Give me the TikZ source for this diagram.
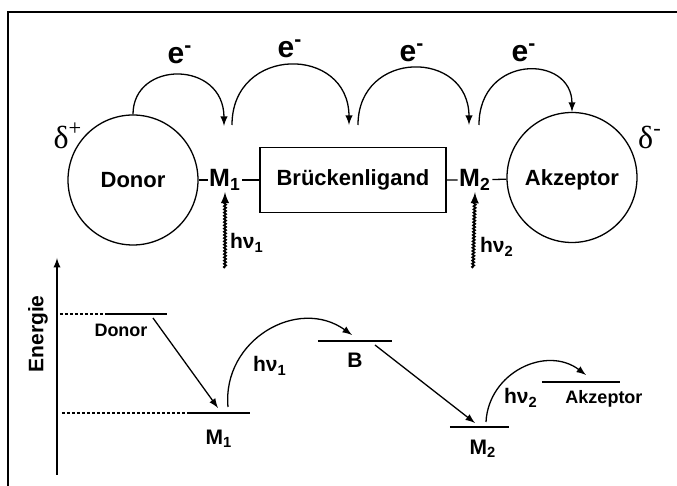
\documentclass[tikz,border=0pt]{standalone}
\usepackage{fontspec}
\setmainfont{Liberation Sans}
\newfontfamily\greekserif{Liberation Serif}
\usetikzlibrary{decorations.pathmorphing}

\tikzset{
	wavy/.style={decorate, decoration={snake, amplitude=0.5pt, segment length=1.6pt, post length=3pt}, line width=0.9pt},
	level/.style={line width=1pt},
	guide/.style={line width=0.6pt, dash pattern=on 1.5pt off 1pt},
	big/.style={font=\bfseries\fontsize{11}{13}\selectfont},
	metal/.style={inner sep=0.5pt, font=\bfseries\fontsize{12.5}{14}\selectfont},
	elec/.style={font=\bfseries\fontsize{15}{17}\selectfont},
	charge/.style={font=\greekserif\fontsize{16}{18}\selectfont},
	lvl/.style={font=\bfseries\fontsize{10.5}{12}\selectfont},
	lvlname/.style={font=\bfseries\fontsize{9}{11}\selectfont}
}

\begin{document}
\begin{tikzpicture}[x=0.5pt, y=-0.5pt, line width=0.65pt, >=latex]
	\useasboundingbox (0,0) rectangle (677,486);
	\draw[line width=1pt] (8,486)--(8,12.5)--(677,12.5);

	% molecule
	\node[circle, draw, minimum size=65pt, inner sep=0pt, big] (donor) at (133,180) {Donor};
	\node[circle, draw, minimum size=65pt, inner sep=0pt, text depth=0pt, big] (akz) at (572,177.5) {Akzeptor};
	\node[draw, minimum width=93pt, minimum height=32.5pt, big] (bridge) at (353,180) {Brückenligand};
	\node[metal] (m1) at (225,180) {M\textsubscript{1}};
	\node[metal] (m2) at (475,180) {M\textsubscript{2}};
	\draw (donor) -- (m1) -- (bridge);
	\draw (bridge) -- (m2) -- (akz);
	\node[charge] (dplus) at (68,136) {δ\textsuperscript{+}};
	\node[charge] (dminus) at (650,137) {δ\textsuperscript{-}};

	% electron hops
	\coordinate (a1) at (224,126);
	\coordinate (b0) at (232,125);
	\coordinate (b1) at (349,125);
	\coordinate (c0) at (358,125);
	\coordinate (c1) at (469,125);
	\coordinate (d0) at (479,125);
	\draw[->] (donor.north) .. controls (133,60) and (224,60) .. (a1);
	\draw[->] (b0) .. controls (232,45) and (349,45) .. (b1);
	\draw[->] (c0) .. controls (358,49) and (469,49) .. (c1);
	\draw[->] (d0) .. controls (479,54) and (572,54) .. (akz.north);
	\foreach \x/\y [count=\i] in {180/55, 290/49, 412/53, 524/53}
		\node[elec] (e\i) at (\x,\y) {e\textsuperscript{-}};

	% excitation
	\coordinate (w1) at (225,268);
	\coordinate (w2) at (473,268);
	\draw[wavy, ->] (w1) -- (m1.south);
	\draw[wavy, ->] (w2) -- (m2.south);
	\node[lvl] (hv1) at (247,243) {hν\textsubscript{1}};
	\node[lvl] (hv2) at (497,247) {hν\textsubscript{2}};

	% energy scheme
	\coordinate (ax0) at (57,475);
	\coordinate (ax1) at (57,258);
	\draw[->] (ax0) -- (ax1);
	\node[rotate=90, lvl] (energie) at (38,334) {Energie};

	\draw[guide] (60,314) -- (107,314);
	\draw[level] (107,314) -- (167,314);
	\draw[guide] (62,413) -- (188,413);
	\draw[level] (188,413) -- (250,413);
	\draw[level] (318,341) -- (392,341);
	\draw[level] (450,427) -- (509,427);
	\draw[level] (542,382) -- (620,382);

	\node[lvlname] (ldonor) at (121,330) {Donor};
	\node[lvl] (lm1) at (219,439) {M\textsubscript{1}};
	\node[lvl] (lb) at (355,360) {B};
	\node[lvl] (lm2) at (483,449) {M\textsubscript{2}};
	\node[lvlname] (lakz) at (604,399) {Akzeptor};

	\coordinate (p0) at (153,318);
	\coordinate (p1) at (218,408);
	\coordinate (q0) at (375,345);
	\coordinate (q1) at (475,423);
	\coordinate (r0) at (228,407);
	\coordinate (r1) at (352,335);
	\coordinate (s0) at (486,422);
	\coordinate (s1) at (586,375);
	\draw[->] (p0) -- (p1);
	\draw[->] (q0) -- (q1);
	\draw[->] (r0) .. controls (222,340) and (298,296) .. (r1);
	\draw[->] (s0) .. controls (488.6,372.4) and (546.4,344.9) .. (s1);
	\node[lvl] (lhv1) at (270,366) {hν\textsubscript{1}};
	\node[lvl] (lhv2) at (521,398) {hν\textsubscript{2}};
\end{tikzpicture}
\end{document}
